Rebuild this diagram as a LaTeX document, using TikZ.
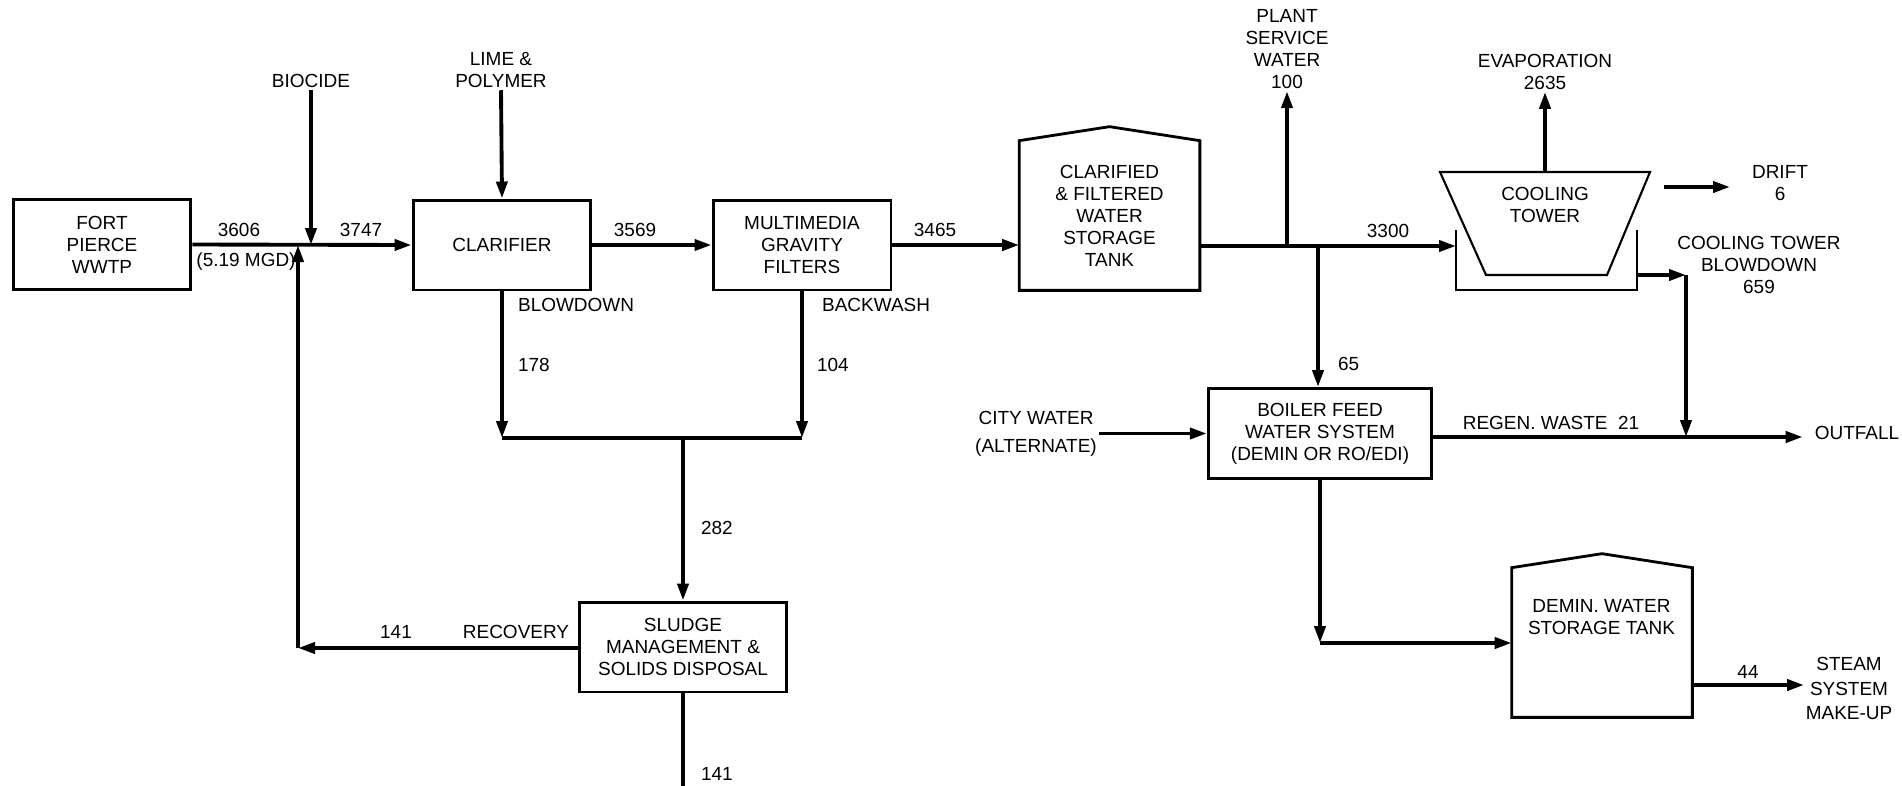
\documentclass[tikz,border=0pt]{standalone}
\usepackage{fontspec}
\setmainfont{Liberation Sans}
\usetikzlibrary{arrows.meta,calc,positioning}

\begin{document}
\begin{tikzpicture}[x=0.02cm, y=-0.02cm, font=\fontsize{10.8}{12.5}\selectfont]
	\tikzset{box/.style={draw=black, line width=1.7pt, minimum width=3.56cm, minimum height=1.8cm, align=center, inner sep=2pt},
	tank/.style={minimum width=3.6cm, minimum height=2.98cm, align=center, inner sep=0pt},
	wall/.style={line width=1.6pt, line join=miter},
	thin wall/.style={line width=1.2pt, line join=miter},
	l/.style={line width=2.2pt},
	f/.style={l, -{Triangle[length=3.4mm, width=2.2mm]}},
	lbl/.style={align=center, inner sep=1pt}};

	\useasboundingbox (0,0) rectangle (1902,785);

	% process units
	\node[box] (fort) at (102,244.5) {FORT\\PIERCE\\WWTP};
	\node[box] (clar) at (502,245) {CLARIFIER};
	\node[box] (mm) at (802,245) {MULTIMEDIA\\GRAVITY\\FILTERS};
	\node[box, minimum width=4.16cm] (sludge) at (683,647) {SLUDGE\\MANAGEMENT \&\\SOLIDS DISPOSAL};
	\node[box, minimum width=4.47cm] (boiler) at (1320,433.5) {BOILER FEED\\WATER SYSTEM\\(DEMIN OR RO/EDI)};

	% tanks with pitched roof
	\node[tank] (cftank) at (1109.5,215.5) {CLARIFIED\\\& FILTERED\\WATER\\STORAGE\\TANK};
	\node[tank] (dtank) at (1602,642.5) {};
	\node[lbl] (dtext) at (1601.5,617.5) {DEMIN. WATER\\STORAGE TANK};
	\foreach \t in {cftank,dtank}
		\draw[wall] (\t.south west) -- (\t.north west) -- ([yshift=2.8mm]\t.north) -- (\t.north east) -- (\t.south east) -- cycle;

	% cooling tower and basin
	\node[lbl] (ct) at (1545,205) {COOLING\\TOWER};
	\coordinate (cttl) at (1440,172);
	\coordinate (cttr) at (1650,172);
	\coordinate (ctbr) at (1607,275);
	\coordinate (ctbl) at (1486,275);
	\coordinate (ctt) at (1545,172);
	\draw[thin wall] (cttl) -- (cttr) -- (ctbr) -- (ctbl) -- cycle;
	\coordinate (bsl) at (1456,230);
	\coordinate (bsr) at (1637,230);
	\draw[wall] (bsl) -- (1456,290) -- (1637,290) -- (bsr);

	% feeds and outlets
	\node[lbl] (biocide) at (311,81) {BIOCIDE};
	\node[lbl] (lime) at (501,70.5) {LIME \&\\POLYMER};
	\node[lbl] (psw) at (1287,49.5) {PLANT\\SERVICE\\WATER\\100};
	\node[lbl] (evap) at (1545,72) {EVAPORATION\\2635};
	\node[lbl] (drift) at (1780,183) {DRIFT\\6};
	\node[lbl] (ctbd) at (1759,265) {COOLING TOWER\\BLOWDOWN\\659};
	\node[lbl] (city) at (1036,434) {CITY WATER\\[3.5pt](ALTERNATE)};
	\node[lbl] (outfall) at (1857,433) {OUTFALL};
	\node[lbl] (steam) at (1849,688.5) {STEAM\\[1.5pt]SYSTEM\\[1.5pt]MAKE-UP};

	% flow labels
	\node[lbl] (q3606) at (239,230) {3606};
	\node[lbl] (mgd) at (246,262) {(5.19 MGD)};
	\node[lbl] (q3747) at (361,230) {3747};
	\node[lbl] (q3569) at (635,230) {3569};
	\node[lbl] (q3465) at (935,230) {3465};
	\node[lbl] (q3300) at (1388,231) {3300};
	\node[lbl, anchor=west] (bdlbl) at (516,305) {BLOWDOWN};
	\node[lbl, anchor=west] (q178) at (516,365) {178};
	\node[lbl, anchor=west] (bwlbl) at (820,305) {BACKWASH};
	\node[lbl, anchor=west] (q104) at (815,365) {104};
	\node[lbl, anchor=west] (q282) at (699,528) {282};
	\node[lbl] (q141r) at (396,632) {141};
	\node[lbl] (rec) at (516,632) {RECOVERY};
	\node[lbl, anchor=west] (q141s) at (699,774) {141};
	\node[lbl, anchor=west] (q65) at (1336,364) {65};
	\node[lbl] (regen) at (1551,423) {REGEN. WASTE~~21};
	\node[lbl] (q44) at (1748,672) {44};

	% junction points
	\coordinate (rj) at (298,245);
	\coordinate (bj) at (311,245);
	\coordinate (rc) at (298,648);
	\coordinate (cb) at (clar.south |- 0,438);
	\coordinate (bb) at (mm.south |- 0,438);
	\coordinate (sj) at (sludge.north |- 0,438);
	\coordinate (sout) at (sludge.south |- 0,790);
	\coordinate (pj) at (1287,246);
	\coordinate (fj) at (1318,246);
	\coordinate (bwin) at (1456,246);
	\coordinate (bwout) at (1637,275);
	\coordinate (bdc) at (1686,275);
	\coordinate (oj) at (1686,437);
	\coordinate (dc) at (boiler.south |- 0,643);
	\coordinate (dft) at (1664,187);
	\coordinate (dftend) at (1730,187);

	% main stream
	\draw[f] (fort.east) -- (clar.west);
	\draw[f] (biocide.south) -- (bj);
	\draw[f] (rc) -- (rj);
	\draw[f] (lime.south) -- (clar.north);
	\draw[f] (clar.east) -- (mm.west);
	\draw[f] (mm.east) -- (mm.east -| cftank.west);
	\draw[f] (cftank.east |- bwin) -- (bwin);
	\draw[f] (pj) -- (psw.south);
	\draw[f] (fj) -- (fj |- boiler.north);
	\draw[f] (ctt) -- (evap.south);
	\draw[f] (dft) -- (dftend);

	% blowdown and backwash to sludge
	\draw[f] (clar.south) -- (cb);
	\draw[f] (mm.south) -- (bb);
	\draw[l] (cb) -- (bb);
	\draw[f] (sj) -- (sludge.north);
	\draw[f] (sludge.west |- rc) -- (rc);
	\draw[l] (sludge.south) -- (sout);

	% cooling tower blowdown and outfall
	\draw[f] (bwout) -- (bdc);
	\draw[f] (bdc) -- (oj);
	\draw[f] (boiler.east |- oj) -- ([xshift=-2mm]outfall.west |- oj);
	\draw[f] (boiler.west -| city.east) -- (boiler.west);

	% demineralized water
	\draw[f] (boiler.south) -- (dc);
	\draw[f] (dc) -- (dtank.west |- dc);
	\draw[f] (dtank.east |- 0,685) -- (1804,685);
\end{tikzpicture}
\end{document}
